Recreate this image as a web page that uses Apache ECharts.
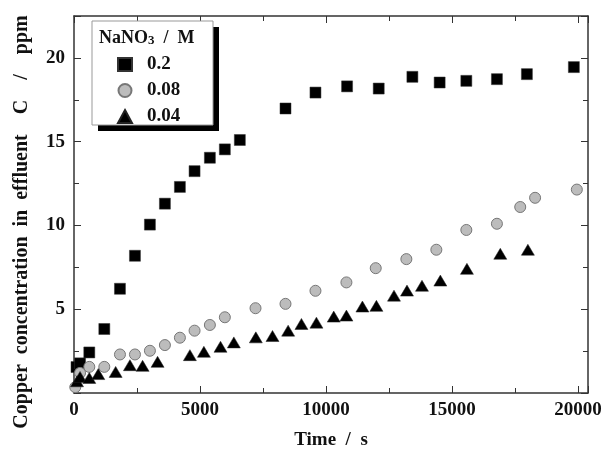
<!DOCTYPE html>
<html lang="en">
<head>
  <meta charset="UTF-8">
  <title>Copper concentration vs time</title>
</head>
<body style="margin:0;background:#fff">
  <div id="chart" style="width: 613px;height: 461px;"></div>
</body>
<script src="https://cdn.jsdelivr.net/npm/echarts@6/dist/echarts.min.js"></script>
<script>
  // [time s, C ppm]
  var nano3_02 = [[100,1.55],[240,1.77],[607,2.42],[1203,3.82],[1824,6.22],[2419,8.19],[3013,10.05],[3608,11.3],[4203,12.3],[4785,13.24],[5393,14.04],[5987,14.54],[6582,15.1],[8394,16.98],[9583,17.93],[10838,18.3],[12094,18.17],[13430,18.87],[14512,18.53],[15571,18.63],[16785,18.73],[17975,19.03],[19839,19.45]];
  var nano3_008 = [[50,0.35],[240,1.2],[607,1.56],[1203,1.56],[1824,2.3],[2419,2.3],[3013,2.52],[3608,2.86],[4203,3.3],[4785,3.72],[5393,4.06],[5987,4.52],[7204,5.06],[8394,5.32],[9583,6.1],[10812,6.6],[11975,7.45],[13191,7.99],[14381,8.55],[15571,9.73],[16785,10.1],[17710,11.1],[18300,11.65],[19957,12.14]];
  var nano3_004 = [[120,0.7],[240,0.96],[607,0.9],[964,1.13],[1653,1.26],[2220,1.66],[2723,1.62],[3317,1.86],[4600,2.26],[5155,2.46],[5815,2.76],[6344,3.02],[7217,3.32],[7878,3.4],[8499,3.72],[9027,4.12],[9622,4.2],[10309,4.56],[10812,4.62],[11447,5.16],[12002,5.2],[12700,5.81],[13216,6.11],[13811,6.4],[14540,6.71],[15595,7.41],[16919,8.31],[18014,8.55]];
  var seriesNames = ['0.2', '0.08', '0.04'];

  var font = 'Liberation Serif';
  var lineC = '#333';
  var myChart = echarts.init(document.getElementById('chart'));

  function axisX(pos, labels) {
    return {
      type: 'value', position: pos, min: 0, max: 20400, interval: 5000,
      axisLine: { show: true, onZero: false, lineStyle: { color: lineC, width: 1.5 } },
      axisTick: { show: true, inside: true, length: 7, lineStyle: { color: lineC } },
      minorTick: { show: true, splitNumber: 2, length: 5, lineStyle: { color: lineC } },
      splitLine: { show: false },
      axisLabel: { show: labels, showMaxLabel: false, margin: 8, color: '#111', fontFamily: font, fontWeight: 'bold', fontSize: 19,
        formatter: function (v) { return String(v); } },
      name: labels ? 'Time  /  s' : '', nameLocation: 'middle', nameGap: 38,
      nameTextStyle: { color: '#111', fontFamily: font, fontWeight: 'bold', fontSize: 19 }
    };
  }
  function axisY(pos, labels) {
    return {
      type: 'value', position: pos, min: 0, max: 22.5, interval: 5,
      axisLine: { show: true, onZero: false, lineStyle: { color: lineC, width: 1.5 } },
      axisTick: { show: true, inside: true, length: 7, lineStyle: { color: lineC } },
      minorTick: { show: true, splitNumber: 2, length: 5, lineStyle: { color: lineC } },
      splitLine: { show: false },
      axisLabel: { show: labels, showMinLabel: false, showMaxLabel: false, margin: 9, color: '#111', fontFamily: font, fontWeight: 'bold', fontSize: 19 }
    };
  }

  myChart.setOption({
    animation: false,
    backgroundColor: '#fff',
    grid: { left: 74, right: 25, top: 16, bottom: 68 },
    xAxis: [axisX('bottom', true), axisX('top', false)],
    yAxis: [axisY('left', true), axisY('right', false)],
    graphic: [
      // y-axis title, placed like the original (it runs past the plot bottom)
      { type: 'text', z: 4, x: 22, y: 222, rotation: Math.PI / 2, style: {
          text: 'Copper  concentration  in  effluent    C    /    ppm', fill: '#111',
          font: 'bold 20px "Liberation Serif"', align: 'center', verticalAlign: 'middle'
      } },
      { type: 'rect', z: 3, shape: { x: 98, y: 27, width: 121, height: 104 }, style: { fill: '#000' } },
      { type: 'rect', z: 3, shape: { x: 92, y: 21, width: 121, height: 104 }, style: { fill: '#fff', stroke: '#999', lineWidth: 1 } },
      { type: 'text', z: 4, x: 99, y: 29, style: {
          text: 'NaNO{s|3}  /  M', fill: '#111', font: 'bold 18px "Liberation Serif"',
          rich: { s: { fontSize: 13, fontWeight: 'bold', fontFamily: font, padding: [5, 0, 0, 0] } }
      } }
    ],
    legend: {
      z: 10, orient: 'vertical', left: 112, top: 50, itemGap: 7, itemWidth: 14, itemHeight: 13,
      data: seriesNames,
      textStyle: { color: '#111', fontFamily: font, fontWeight: 'bold', fontSize: 19, padding: [0, 0, 0, 10] }
    },
    series: [
      { name: seriesNames[0], type: 'scatter', symbol: 'rect', symbolSize: 11, data: nano3_02,
        itemStyle: { color: '#000', opacity: 1, borderColor: '#333', borderWidth: 0.5 } },
      { name: seriesNames[1], type: 'scatter', symbol: 'circle', symbolSize: 11, data: nano3_008,
        itemStyle: { color: '#bcbcbc', opacity: 1, borderColor: '#777', borderWidth: 1 } },
      { name: seriesNames[2], type: 'scatter', symbol: 'triangle', symbolSize: [13, 11], data: nano3_004,
        itemStyle: { color: '#000', opacity: 1, borderColor: '#222', borderWidth: 0.5 } }
    ]
  });
</script>
</html>
